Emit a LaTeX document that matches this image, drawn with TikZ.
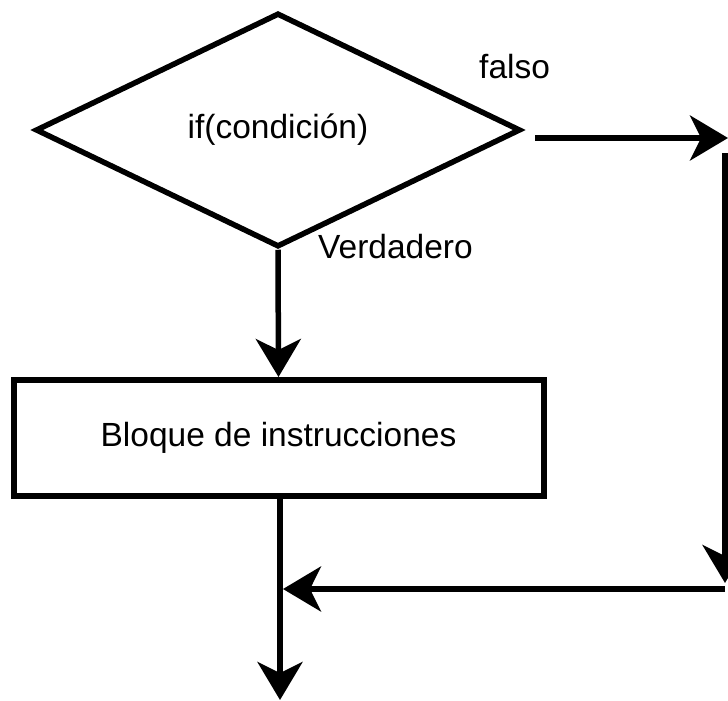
\documentclass[tikz,border=0pt]{standalone}
\usepackage{fontspec}
\setmainfont{Liberation Sans}
\usetikzlibrary{shapes.geometric,arrows.meta}

\begin{document}
\begin{tikzpicture}[x=1pt, y=-1pt, font=\fontsize{33.5}{40}\selectfont,
  linea/.style={line width=5.5pt},
  flecha/.style={line width=5.5pt, -{Stealth[length=38pt, width=45pt, inset=11pt]}}]
\useasboundingbox (0,0) rectangle (728,701);
\node [diamond, draw, linea, inner sep=0pt, minimum width=485pt, minimum height=234pt] (cond) at (278,130) {if(condición)};
\node [draw, line width=6pt, inner sep=0pt, minimum width=530pt, minimum height=116pt] (bloque) at (278.5,438) {Bloque de instrucciones};
\node [anchor=base west, inner sep=0pt] (falso) at (479,78) {falso};
\node [anchor=base west, inner sep=0pt] (verdad) at (318,258) {Verdadero};
\coordinate (fs) at (535,138);
\coordinate (fe) at (728,138);
\coordinate (rt) at (725,153);
\coordinate (rb) at (725,583);
\coordinate (jr) at (725,589);
\coordinate (jl) at (283,589);
\coordinate (fin) at (280,700);
\draw [flecha] (cond.south) -- (bloque.north);
\draw [flecha] (fs) -- (fe);
\draw [flecha] (rt) -- (rb);
\draw [flecha] (jr) -- (jl);
\draw [flecha] (bloque.south -| fin) -- (fin);
\end{tikzpicture}
\end{document}
